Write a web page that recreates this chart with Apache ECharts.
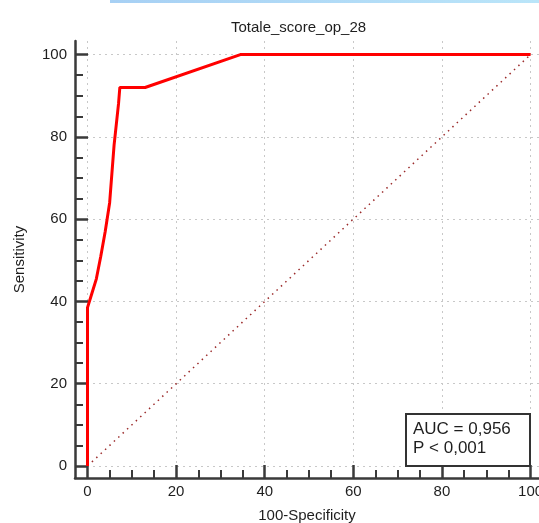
<!DOCTYPE html>
<html>
<head>
<meta charset="utf-8">
<script src="https://cdn.jsdelivr.net/npm/echarts@6/dist/echarts.min.js"></script>
<style>html,body{margin:0;padding:0;background:#fff}#c{width:539px;height:523px}</style>
</head>
<body>
<div id="c"></div>
<script>
// ROC curve points: [100-Specificity, Sensitivity]
const rocX = [0, 0, 1, 2, 3, 4, 5, 6, 7, 7.3, 13, 34.5, 100];
const rocY = [0, 38.5, 42, 45.5, 51, 57, 64, 78, 88, 92, 92, 100, 100];
const refX = [0, 100];
const refY = [0, 100];
const majorTicks = [0, 20, 40, 60, 80, 100];
const minorTicks = [5, 10, 15, 25, 30, 35, 45, 50, 55, 65, 70, 75, 85, 90, 95];
const titleText = 'Totale_score_op_28';
const xName = '100-Specificity';
const yName = 'Sensitivity';
const aucLines = ['AUC = 0,956', 'P < 0,001'];

const font = 'Arial, "Liberation Sans", sans-serif';
const axisColor = '#3a3a3a';
const gridStyle = {show: true, lineStyle: {color: '#c8c8c8', width: 1, type: [2, 4]}};

const chart = echarts.init(document.getElementById('c'), null, {renderer: 'canvas'});
const xr = {min: -2.82, max: 101.9};
const yr = {min: -2.91, max: 103.3};

function majorAxis(isX, r) {
  return {
    type: 'value', min: r.min, max: r.max,
    position: isX ? 'bottom' : 'left',
    axisLine: {show: true, onZero: false, lineStyle: {color: axisColor, width: 2.5}},
    axisTick: {show: true, inside: true, length: 13, customValues: majorTicks, lineStyle: {color: axisColor, width: 2.5}},
    axisLabel: {show: true, customValues: majorTicks, color: '#1e1e1e', fontSize: 15, fontFamily: font, margin: isX ? 6 : 8},
    splitLine: gridStyle,
    name: isX ? xName : yName,
    nameLocation: 'middle',
    nameGap: isX ? 30 : 48,
    nameTextStyle: {color: '#1e1e1e', fontSize: 15, fontFamily: font}
  };
}
function minorAxis(isX, r) {
  return {
    type: 'value', min: r.min, max: r.max,
    position: isX ? 'bottom' : 'left',
    axisLine: {show: false, onZero: false},
    axisTick: {show: true, inside: true, length: 8, customValues: minorTicks, lineStyle: {color: axisColor, width: 2}},
    axisLabel: {show: false},
    splitLine: {show: false}
  };
}

chart.setOption({
  animation: false,
  backgroundColor: '#ffffff',
  title: [
    {text: titleText, left: 226, top: 15, textStyle: {fontSize: 15, fontWeight: 'normal', color: '#1e1e1e', fontFamily: font}},
    {text: aucLines.join('\n'), left: 406, top: 414,
     padding: [6, 19, 8, 7], borderWidth: 2, borderColor: '#333', backgroundColor: '#fff',
     textStyle: {fontSize: 17, fontWeight: 'normal', color: '#1e1e1e', fontFamily: font, lineHeight: 19}}
  ],
  grid: {left: 75, right: 0, top: 41, bottom: 45, containLabel: false, outerBoundsMode: 'none'},
  xAxis: [majorAxis(true, xr), minorAxis(true, xr)],
  yAxis: [majorAxis(false, yr), minorAxis(false, yr)],
  graphic: [{
    type: 'rect', shape: {x: 110, y: 0, width: 429, height: 3}, silent: true,
    style: {fill: new echarts.graphic.LinearGradient(0, 0, 1, 0, [{offset: 0, color: '#a7d0f4'}, {offset: 1, color: '#bae5f9'}])}
  }],
  series: [
    {type: 'line', data: refX.map((v, i) => [v, refY[i]]), symbol: 'none', z: 2,
     lineStyle: {color: '#9b2a2a', width: 1.5, type: [1.5, 4.5]}},
    {type: 'line', data: rocX.map((v, i) => [v, rocY[i]]), symbol: 'none', z: 3,
     lineStyle: {color: '#ff0000', width: 3}}
  ]
});
</script>
</body>
</html>
